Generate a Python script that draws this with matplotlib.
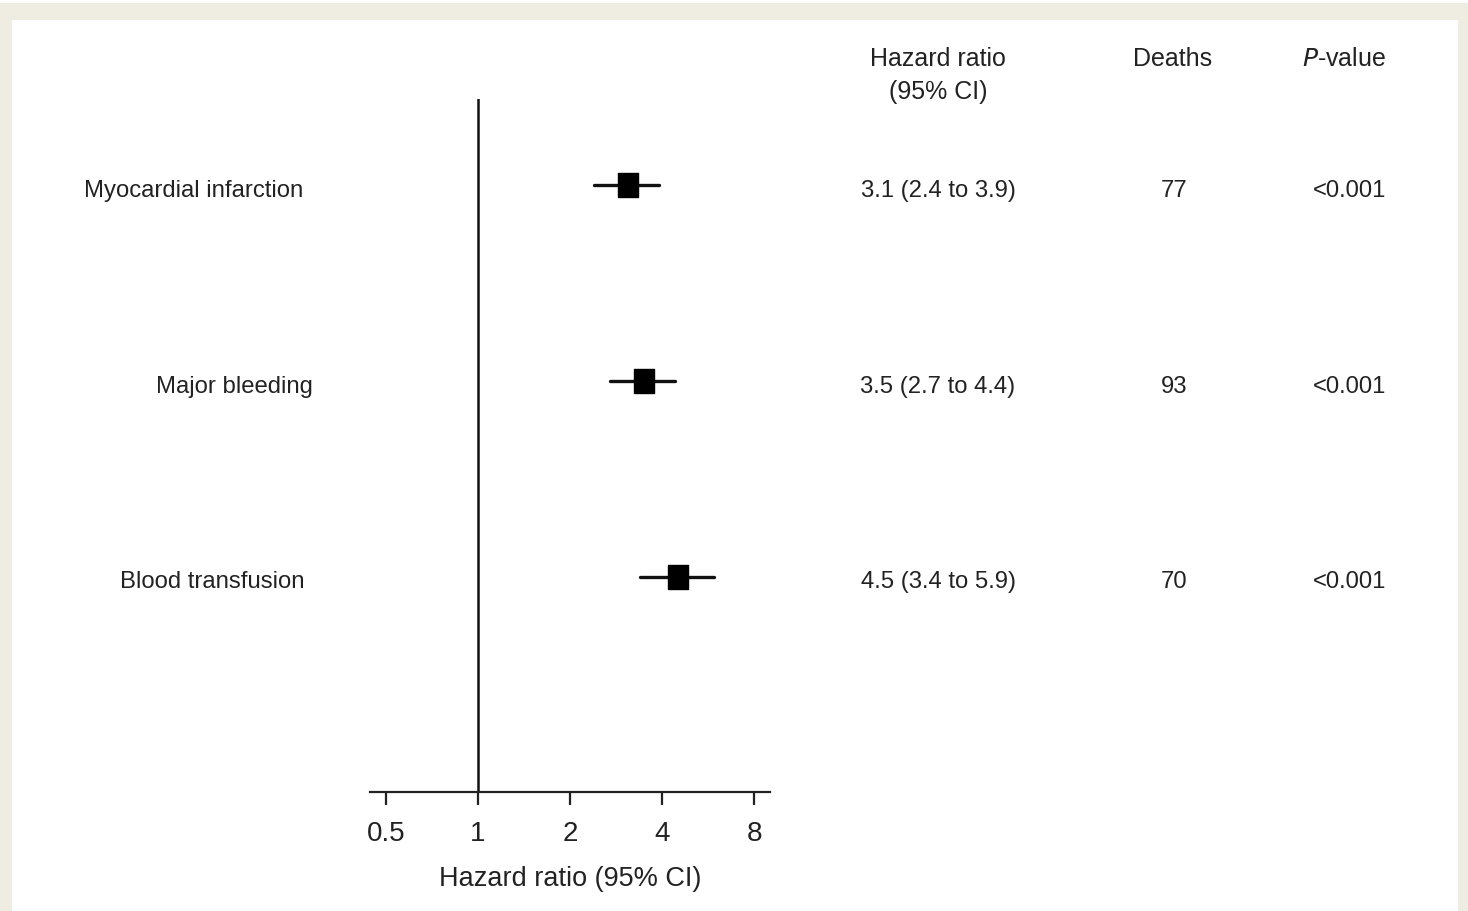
import matplotlib
matplotlib.use("Agg")
import matplotlib.pyplot as plt
from matplotlib.patches import Rectangle
from matplotlib import font_manager
import numpy as np

outcomes = ["Myocardial infarction", "Major bleeding", "Blood transfusion"]
hr = [3.1, 3.5, 4.5]
lo = [2.4, 2.7, 3.4]
hi = [3.9, 4.4, 5.9]
deaths = [77, 93, 70]
pvals = ["<0.001", "<0.001", "<0.001"]
ticks = [0.5, 1, 2, 4, 8]
tick_labels = ["0.5", "1", "2", "4", "8"]

body_family = ["Liberation Sans", "DejaVu Sans"]
body_size = 17.2
head_size = 18

W, H = 1468, 912
fig = plt.figure(figsize=(W / 100, H / 100), dpi=100)
fig.patch.set_facecolor("white")
beige = "#efede2"
fig.patches.append(Rectangle((0, 0), 1, 1 - 4 / H, transform=fig.transFigure,
                             facecolor=beige, edgecolor="none", zorder=-10))
fig.patches.append(Rectangle((12 / W, 0), (1458 - 12) / W, 1 - 21 / H,
                             transform=fig.transFigure, facecolor="white",
                             edgecolor="none", zorder=-9))

plt.rcParams["font.family"] = ["Liberation Sans", "DejaVu Sans"]

x0, x1 = 370, 770
ytop, ybot = 100, 793
ax = fig.add_axes([x0 / W, 1 - ybot / H, (x1 - x0) / W, (ybot - ytop) / H])
ax.set_facecolor("none")
ax.set_xscale("log", base=2)
ax.set_xlim(2 ** (-1 - 16 / 92), 2 ** (3 + 16 / 92))
rows = np.arange(len(outcomes))
ax.set_ylim(2 + 215 / 196, -86 / 196)

for s in ["top", "right", "left"]:
    ax.spines[s].set_visible(False)
ax.spines["bottom"].set_linewidth(1.6)
ax.spines["bottom"].set_color("#222222")
ax.set_yticks([])
ax.set_xticks(ticks)
ax.set_xticklabels(tick_labels, fontsize=20, color="#222222")
ax.minorticks_off()
ax.tick_params(axis="x", length=9, width=1.6, color="#222222", pad=11)
ax.set_xlabel("Hazard ratio (95% CI)", fontsize=19.5, color="#222222", labelpad=14)

ax.axvline(1, color="#111111", lw=1.8)
for i in rows:
    ax.plot([lo[i], hi[i]], [i, i], color="#111111", lw=2.4, solid_capstyle="round")
rect = [(-10, -12), (10, -12), (10, 12), (-10, 12), (-10, -12)]
ax.plot(hr, rows, linestyle="none", marker=rect, markersize=17.5,
        color="#000000")

# text columns (figure pixel coordinates, baseline anchored)
def ftext(px, py, s, size=None, **kw):
    fig.text(px / W, 1 - py / H, s, va="baseline", fontsize=size or body_size,
             color="#222222", family=body_family, **kw)

row_base = [197, 393, 588]
label_x = [84, 156, 120]
for i, name in enumerate(outcomes):
    ftext(label_x[i], row_base[i], name, ha="left")
    ftext(938, row_base[i], f"{hr[i]:.1f} ({lo[i]:.1f} to {hi[i]:.1f})", ha="center")
    ftext(1174, row_base[i], str(deaths[i]), ha="center")
    ftext(1386, row_base[i], pvals[i], ha="right")

ftext(938, 66, "Hazard ratio", size=head_size, ha="center")
ftext(938, 99, "(95% CI)", size=head_size, ha="center")
ftext(1173, 66, "Deaths", size=head_size, ha="center")
fig.text(1386 / W, 1 - 66 / H, "$\\mathit{P}$-value", va="baseline", ha="right",
         fontsize=head_size, color="#222222", family=body_family)

fig.savefig("out.png", dpi=100, facecolor=fig.get_facecolor())
